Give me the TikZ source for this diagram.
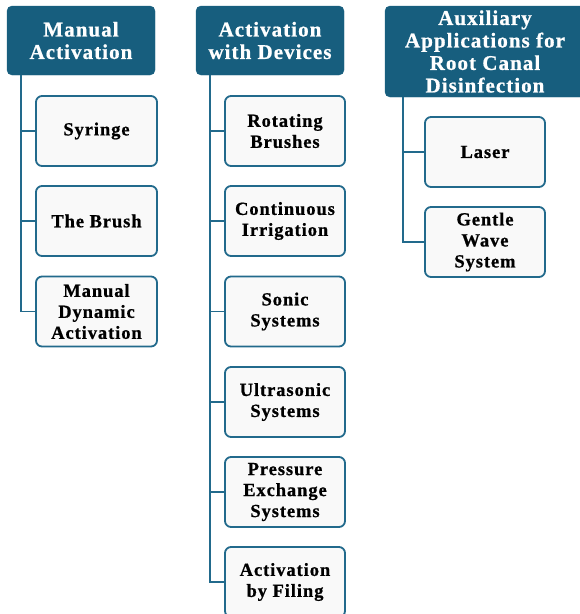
\documentclass[tikz,border=0pt]{standalone}
\usepackage{fontspec}
\setmainfont{Liberation Serif}[BoldFont={Liberation Serif Bold}]
\newfontfamily\serfont{Liberation Serif}[BoldFont={Liberation Serif Bold},BoldFeatures={FakeBold=0.8},LetterSpace=5]
\definecolor{hdr}{HTML}{175E7E}
\definecolor{edge}{HTML}{226A8C}
\definecolor{boxfill}{HTML}{F9F9F9}
\begin{document}
\begin{tikzpicture}[x=1pt,y=-1pt,
  header/.style={fill=hdr,draw=hdr,rounded corners=5pt,text=white,
    font=\serfont\fontsize{21}{22.5}\selectfont\bfseries,align=center,inner sep=0pt},
  child/.style={fill=boxfill,draw=edge,line width=1.8pt,rounded corners=6pt,
    font=\serfont\fontsize{18.5}{21}\selectfont\bfseries,align=center,inner sep=0pt,
    minimum width=120pt,minimum height=70pt},
  conn/.style={draw=edge,line width=1.8pt}]
\useasboundingbox (0,0) rectangle (580,614);
% headers
\node[header,minimum width=148pt,minimum height=69pt] (h1) at (81,40.5) {Manual\\Activation};
\node[header,minimum width=148pt,minimum height=69pt] (h2) at (270,40.5) {Activation\\with Devices};
\node[header,minimum width=200pt,minimum height=91pt] (h3) at (485,51.5) {Auxiliary\\Applications for\\Root Canal\\Disinfection};
% column 1
\node[child,minimum width=121pt] (a1) at (96.5,131) {Syringe};
\node[child,minimum width=121pt] (a2) at (96.5,221) {The Brush};
\node[child,minimum width=121pt] (a3) at (96.5,311.5) {Manual\\Dynamic\\Activation};
% column 2
\node[child] (b1) at (285,131) {Rotating\\Brushes};
\node[child] (b2) at (285,221) {Continuous\\Irrigation};
\node[child] (b3) at (285,311.5) {Sonic\\Systems};
\node[child] (b4) at (285,402) {Ultrasonic\\Systems};
\node[child] (b5) at (285,492) {Pressure\\Exchange\\Systems};
\node[child] (b6) at (285,582) {Activation\\by Filing};
% column 3
\node[child] (c1) at (485,152) {Laser};
\node[child] (c2) at (485,242) {Gentle\\Wave\\System};
% connectors
\foreach \n in {a1,a2,a3} \draw[conn] ([xshift=14pt]h1.south west) |- (\n.west);
\foreach \n in {b1,b2,b3,b4,b5,b6} \draw[conn] ([xshift=14pt]h2.south west) |- (\n.west);
\foreach \n in {c1,c2} \draw[conn] ([xshift=18pt]h3.south west) |- (\n.west);
\end{tikzpicture}
\end{document}
